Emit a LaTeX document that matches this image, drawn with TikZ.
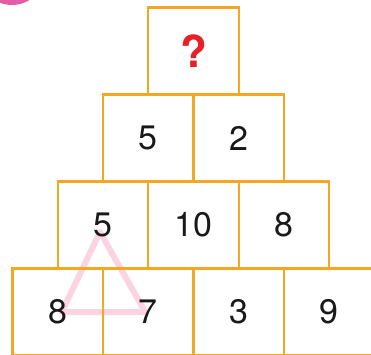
\documentclass[tikz,border=0pt]{standalone}
\usepackage{fontspec}
\setmainfont{TeX Gyre Heros}
\definecolor{borange}{HTML}{F5A623}
\definecolor{bred}{HTML}{E8202A}
\definecolor{bpink}{HTML}{E25DA8}
\definecolor{blight}{HTML}{F7B8D0}
\usetikzlibrary{positioning,calc,backgrounds}

\begin{document}
\begin{tikzpicture}[x=1pt,y=-1pt,
  node distance=0pt,
  cell/.style={draw=borange,line width=2.4pt,outer sep=0pt,minimum width=90.5pt,minimum height=87pt,inner sep=0pt,font=\fontsize{34}{34}\selectfont,text=black!90},
  tri/.style={blight,line width=6pt,opacity=0.6,line join=round}]
  \useasboundingbox (0,0) rectangle (371,354);
  \clip (0,0) rectangle (371,354);
  \fill[bpink] (12,-28) circle (33);
  % top of the pyramid
  \node[cell,font=\fontsize{44}{44}\selectfont\bfseries,text=bred] (top) at (193.5,51) {?};
  % second row
  \node[cell] (ra) at (148.25,138) {5};
  \node[cell,right=of ra] (rb) {2};
  % third row
  \node[cell] (sa) at (103,225) {5};
  \node[cell,right=of sa] (sb) {10};
  \node[cell,right=of sb] (sc) {8};
  % bottom row
  \node[cell] (ta) at (57.75,312) {8};
  \node[cell,right=of ta] (tb) {7};
  \node[cell,right=of tb] (tc) {3};
  \node[cell,right=of tc] (td) {9};
  % triangle over 5, 8 and 7
  \coordinate (apex) at ($(sa.center)+(-3,7)$);
  \coordinate (left) at ($(ta.center)+(4,0)$);
  \coordinate (right) at ($(tb.center)+(-3,0)$);
  \begin{scope}[on background layer]
    \draw[tri] (apex) -- (left) -- (right) -- cycle;
  \end{scope}
\end{tikzpicture}
\end{document}
